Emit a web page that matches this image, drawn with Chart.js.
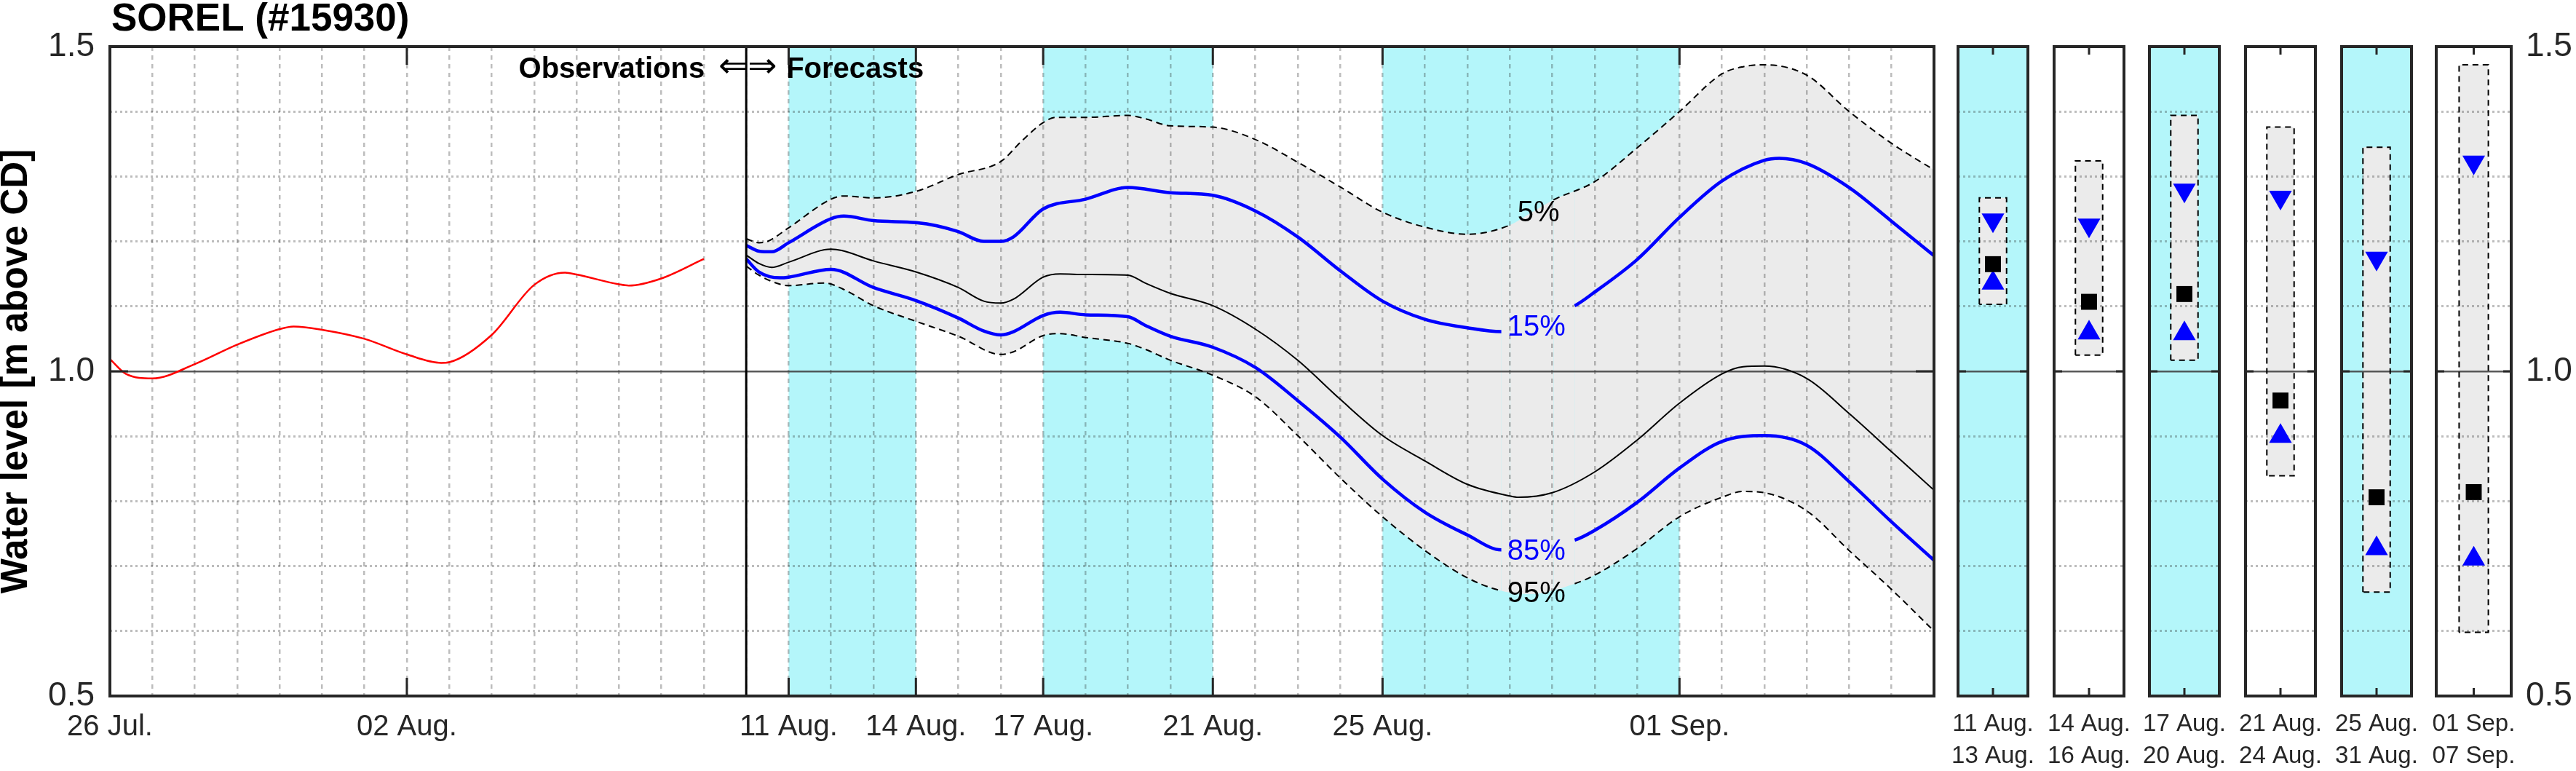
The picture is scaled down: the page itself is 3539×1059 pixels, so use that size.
<!DOCTYPE html>
<html>
<head>
<meta charset="utf-8">
<script src="https://cdn.jsdelivr.net/npm/chart.js@4.4.1/dist/chart.umd.min.js"></script>
<style>
  html, body { margin: 0; padding: 0; background: #fff; }
  #wrap { position: relative; width: 3539px; height: 1059px; overflow: hidden; background: #fff; }
  #wrap canvas { position: absolute; top: 0; }
</style>
</head>
<body>
<div id="wrap">
  <canvas id="main" width="2690" height="1059" style="left:0px"></canvas>
</div>
<script>
// x values are days counted from 26 Jul. 00:00
const xTickDays   = [0, 7, 16, 19, 22, 26, 30, 37];
const xTickLabels = ['26 Jul.', '02 Aug.', '11 Aug.', '14 Aug.', '17 Aug.', '21 Aug.', '25 Aug.', '01 Sep.'];
const yTickLevels = [0.5, 1.0, 1.5];
const yTickLabels = ['0.5', '1.0', '1.5'];
const yGridLevels = [0.5, 0.6, 0.7, 0.8, 0.9, 1.0, 1.1, 1.2, 1.3, 1.4, 1.5];

const forecastStart = 15;                          // 10 Aug.
const shadedDays = [[16, 19], [22, 26], [30, 37]]; // cyan periods

// observed water level
const obsDays  = [0, 0.38, 1, 2, 3, 4, 4.33, 5, 6, 7, 7.81, 8, 9, 10, 10.73, 11, 12, 12.23, 13, 14];
const obsLevel = [1.019, 0.996, 0.989, 1.011, 1.041, 1.065, 1.069, 1.064, 1.050, 1.026, 1.013, 1.014, 1.056, 1.133, 1.152, 1.149, 1.134, 1.132, 1.143, 1.173];

// forecast quantiles
const q05Days = [15, 15.3, 15.5, 16, 17, 17.3, 18, 19, 20, 21, 21.5, 22, 22.3, 23, 24, 24.4, 25, 26, 27, 28, 29, 30, 31, 32, 33, 33.5, 34.03, 35, 36, 37, 38, 38.5, 39, 40, 41, 42, 43];
const q05     = [1.204, 1.198, 1.200, 1.221, 1.265, 1.270, 1.267, 1.277, 1.303, 1.323, 1.355, 1.383, 1.391, 1.391, 1.394, 1.389, 1.378, 1.376, 1.357, 1.322, 1.284, 1.245, 1.222, 1.211, 1.225, 1.244, 1.264, 1.292, 1.344, 1.400, 1.458, 1.469, 1.472, 1.456, 1.400, 1.351, 1.310];

const q15Days = [15, 15.3, 15.6, 16, 17, 17.3, 18, 19, 19.5, 20, 20.6, 21, 21.3, 22, 23, 24, 25, 26, 27, 28, 29, 30, 31, 32, 32.8, 34.53, 35, 36, 37, 38, 39, 39.35, 40, 41, 42, 43];
const q15     = [1.194, 1.185, 1.184, 1.198, 1.235, 1.239, 1.232, 1.229, 1.224, 1.215, 1.200, 1.200, 1.207, 1.250, 1.265, 1.283, 1.275, 1.271, 1.247, 1.207, 1.155, 1.108, 1.080, 1.067, 1.061, 1.101, 1.122, 1.172, 1.237, 1.293, 1.325, 1.328, 1.320, 1.283, 1.231, 1.178];

const medDays = [15, 15.3, 15.6, 16, 17, 17.25, 18, 19, 20, 20.6, 21, 21.3, 22, 22.4, 23, 24, 24.4, 25, 26, 27, 28, 29, 30, 31, 32, 33, 33.2, 34, 35, 36, 37, 38, 38.5, 39, 40, 41, 42, 43];
const median  = [1.179, 1.166, 1.160, 1.168, 1.188, 1.186, 1.170, 1.153, 1.129, 1.108, 1.105, 1.111, 1.145, 1.150, 1.149, 1.148, 1.136, 1.120, 1.101, 1.065, 1.017, 0.957, 0.901, 0.862, 0.826, 0.808, 0.806, 0.813, 0.845, 0.894, 0.951, 0.996, 1.007, 1.008, 0.989, 0.935, 0.876, 0.817];

const q85Days = [15, 15.3, 15.8, 16, 17, 18, 19, 20, 20.6, 21, 21.3, 22, 22.4, 23, 24, 24.4, 25, 26, 27, 28, 29, 30, 31, 32, 32.8, 34.53, 35, 36, 37, 38, 39, 40, 41, 42, 43];
const q85     = [1.173, 1.153, 1.144, 1.145, 1.157, 1.129, 1.109, 1.082, 1.062, 1.056, 1.061, 1.086, 1.091, 1.087, 1.084, 1.071, 1.054, 1.037, 1.006, 0.955, 0.899, 0.834, 0.783, 0.748, 0.725, 0.740, 0.755, 0.798, 0.851, 0.892, 0.901, 0.886, 0.830, 0.768, 0.709];

const q95Days = [15, 15.3, 15.8, 16, 16.85, 17.27, 18, 19, 20, 21, 21.3, 22, 22.4, 23, 24, 24.4, 25, 26, 27, 28, 29, 30, 31, 32, 32.8, 33.5, 34.53, 35, 36, 37, 38, 38.5, 39, 40, 41, 42, 43];
const q95     = [1.162, 1.148, 1.134, 1.132, 1.136, 1.127, 1.101, 1.077, 1.054, 1.026, 1.030, 1.055, 1.058, 1.052, 1.043, 1.034, 1.017, 0.994, 0.961, 0.901, 0.836, 0.776, 0.724, 0.682, 0.662, 0.657, 0.673, 0.686, 0.727, 0.776, 0.806, 0.815, 0.813, 0.785, 0.724, 0.664, 0.600];

// where each curve is broken for its label
const gap05 = [33.0, 34.03];
const gapOther = [32.8, 34.53];

const pctLabels     = ['5%', '15%', '85%', '95%'];
const pctLabelDay   = [33.18, 32.94, 32.94, 32.94];
const pctLabelLevel = [1.2455, 1.070, 0.7242, 0.6592];

// period summaries (right panels)
const panelLabels = [['11 Aug.', '13 Aug.'], ['14 Aug.', '16 Aug.'], ['17 Aug.', '20 Aug.'],
                     ['21 Aug.', '24 Aug.'], ['25 Aug.', '31 Aug.'], ['01 Sep.', '07 Sep.']];
const panelShaded = [true, false, true, false, true, false];
const panelHigh = [1.267, 1.324, 1.394, 1.376, 1.345, 1.472];
const panelQ15  = [1.233, 1.225, 1.279, 1.268, 1.174, 1.322];
const panelMed  = [1.165, 1.107, 1.119, 0.955, 0.806, 0.814];
const panelQ85  = [1.136, 1.059, 1.058, 0.900, 0.727, 0.711];
const panelLow  = [1.103, 1.025, 1.017, 0.839, 0.660, 0.598];

const FONT = '"Liberation Sans", Arial, Helvetica, sans-serif';
const AXIS = '#262626';
const GRID = 'rgba(38,38,38,0.30)';
const ZERO = 'rgba(60,60,60,0.85)';
const CYAN = '#b4f6fa';
const GRAY = '#ebebeb';
const BLUE = '#0000ff';

function pts(xs, ys) { return xs.map((x, i) => ({ x: x, y: ys[i] })); }

function hideIn(gap) {
  return {
    borderColor: ctx => (ctx.p0.parsed.x >= gap[0] - 1e-6 && ctx.p1.parsed.x <= gap[1] + 1e-6) ? 'rgba(0,0,0,0)' : undefined
  };
}

// cyan shading, must run before the filler so the grey band covers it
const bandsPlugin = {
  id: 'bands',
  beforeDraw(chart, args, opts) {
    const ranges = opts.ranges || [];
    if (!ranges.length) return;
    const { ctx, chartArea: a, scales: { x } } = chart;
    ctx.save();
    ctx.fillStyle = CYAN;
    ranges.forEach(r => {
      const x0 = x.getPixelForValue(r[0]);
      const x1 = x.getPixelForValue(r[1]);
      ctx.fillRect(x0, a.top, x1 - x0, a.bottom - a.top);
    });
    ctx.restore();
  }
};
if (Chart.Filler) {
  Chart.unregister(Chart.Filler);
  Chart.register(bandsPlugin);
  Chart.register(Chart.Filler);
} else {
  Chart.register(bandsPlugin);
}

// box frame plus inward tick marks
const framePlugin = {
  id: 'frame',
  afterDraw(chart, args, opts) {
    const { ctx, chartArea: a, scales: { x, y } } = chart;
    const len = opts.len || 25;
    ctx.save();
    ctx.strokeStyle = AXIS;
    ctx.lineWidth = 3;
    ctx.beginPath();
    (opts.xTicks || []).forEach(v => {
      const px = x.getPixelForValue(v);
      ctx.moveTo(px, a.top); ctx.lineTo(px, a.top + len);
      ctx.moveTo(px, a.bottom); ctx.lineTo(px, a.bottom - len);
    });
    (opts.yTicks || []).forEach(v => {
      const py = y.getPixelForValue(v);
      ctx.moveTo(a.left, py); ctx.lineTo(a.left + len, py);
      ctx.moveTo(a.right, py); ctx.lineTo(a.right - len, py);
    });
    ctx.stroke();
    ctx.lineWidth = 4;
    ctx.strokeRect(a.left, a.top, a.right - a.left, a.bottom - a.top);
    ctx.restore();
  }
};

// divider, curve labels and header texts of the main axes
const notesPlugin = {
  id: 'notes',
  afterDatasetsDraw(chart) {
    const { ctx, chartArea: a, scales: { x, y } } = chart;
    const xd = x.getPixelForValue(forecastStart);
    ctx.save();
    ctx.strokeStyle = '#000';
    ctx.lineWidth = 3;
    ctx.beginPath();
    ctx.moveTo(xd, a.top); ctx.lineTo(xd, a.bottom);
    ctx.stroke();

    ctx.font = '40px ' + FONT;
    ctx.textAlign = 'left';
    ctx.textBaseline = 'middle';
    pctLabels.forEach((t, i) => {
      ctx.fillStyle = (i === 1 || i === 2) ? BLUE : '#000';
      ctx.fillText(t, x.getPixelForValue(pctLabelDay[i]), y.getPixelForValue(pctLabelLevel[i]) + 2);
    });

    ctx.fillStyle = '#000';
    ctx.textBaseline = 'alphabetic';
    ctx.font = 'bold 40px ' + FONT;
    ctx.textAlign = 'right';
    ctx.fillText('Observations', xd - 57, 107);
    ctx.textAlign = 'left';
    ctx.fillText('Forecasts', xd + 55, 107);
    ctx.font = '48px "DejaVu Sans"';
    ctx.textAlign = 'center';
    ctx.fillText('\u21D0\u21D2', xd + 2, 106);

    ctx.font = 'bold 53px ' + FONT;
    ctx.textAlign = 'left';
    ctx.fillText('SOREL (#15930)', a.left + 2, 42);
    ctx.restore();
  }
};

const yGrid = {
  color: c => (c.tick && c.tick.value === 1) ? ZERO : GRID,
  lineWidth: c => (c.tick && c.tick.value === 1) ? 2.5 : 3,
  drawTicks: false
};
const yBorder = { display: false, dash: c => (c.tick && c.tick.value === 1) ? [] : [3, 4] };

const dayGrid = [];
for (let d = 0; d <= 43; d++) dayGrid.push(d);

new Chart(document.getElementById('main'), {
  type: 'line',
  data: {
    datasets: [
      { label: '5%', data: pts(q05Days, q05), borderColor: '#000', borderWidth: 2, borderDash: [9, 6],
        pointRadius: 0, cubicInterpolationMode: 'monotone', fill: { target: 1 }, backgroundColor: GRAY, segment: hideIn(gap05) },
      { label: '95%', data: pts(q95Days, q95), borderColor: '#000', borderWidth: 2, borderDash: [9, 6],
        pointRadius: 0, cubicInterpolationMode: 'monotone', fill: false, segment: hideIn(gapOther) },
      { label: 'median', data: pts(medDays, median), borderColor: '#000', borderWidth: 2,
        pointRadius: 0, cubicInterpolationMode: 'monotone', fill: false },
      { label: '15%', data: pts(q15Days, q15), borderColor: BLUE, borderWidth: 4.5,
        pointRadius: 0, cubicInterpolationMode: 'monotone', fill: false, segment: hideIn(gapOther) },
      { label: '85%', data: pts(q85Days, q85), borderColor: BLUE, borderWidth: 4.5,
        pointRadius: 0, cubicInterpolationMode: 'monotone', fill: false, segment: hideIn(gapOther) },
      { label: 'observed', data: pts(obsDays, obsLevel), borderColor: '#ff0000', borderWidth: 2.5,
        pointRadius: 0, cubicInterpolationMode: 'monotone', fill: false }
    ]
  },
  options: {
    responsive: false,
    animation: false,
    devicePixelRatio: 1,
    layout: { padding: { left: 0, top: 64, right: 33, bottom: 0 } },
    plugins: {
      legend: { display: false },
      tooltip: { enabled: false },
      filler: { drawTime: 'beforeDraw' },
      bands: { ranges: shadedDays },
      frame: { xTicks: xTickDays, yTicks: yTickLevels, len: 25 }
    },
    scales: {
      x: {
        type: 'linear', min: 0, max: 43,
        afterBuildTicks: s => { s.ticks = dayGrid.map(v => ({ value: v })); },
        afterFit: s => { s.height = 103; s.paddingLeft = 0; s.paddingRight = 0; },
        ticks: {
          autoSkip: false, maxRotation: 0, padding: 19, color: AXIS,
          font: { family: FONT, size: 40 },
          callback: v => { const k = xTickDays.indexOf(v); return k >= 0 ? xTickLabels[k] : ''; }
        },
        grid: { color: GRID, lineWidth: 2.5, drawTicks: false },
        border: { display: false, dash: [6, 6] }
      },
      y: {
        type: 'linear', min: 0.5, max: 1.5,
        afterBuildTicks: s => { s.ticks = yGridLevels.map(v => ({ value: v })); },
        afterFit: s => { s.width = 151; s.paddingTop = 0; s.paddingBottom = 0; },
        ticks: {
          autoSkip: false, padding: 21, color: AXIS,
          font: { family: FONT, size: 46 },
          callback: v => { const k = yTickLevels.indexOf(v); return k >= 0 ? yTickLabels[k] : ''; }
        },
        grid: yGrid,
        border: yBorder,
        title: {
          display: true, text: 'Water level [m above CD]', color: '#000',
          font: { family: FONT, size: 51, weight: 'bold', lineHeight: 0.9 },
          padding: { top: 0, bottom: 0 }
        }
      }
    }
  },
  plugins: [framePlugin, notesPlugin]
});

// right-hand summary panels
const wrap = document.getElementById('wrap');
const panelLeft = [2682, 2814, 2945, 3077, 3209, 3339];
const PANEL_W = 112;
const PAD = 10;
const BOX = 0.39;

panelLabels.forEach((lab, i) => {
  const last = i === panelLabels.length - 1;
  const cv = document.createElement('canvas');
  const left = panelLeft[i] - PAD;
  cv.width = last ? 3539 - left : PANEL_W + 2 * PAD;
  cv.height = 1059;
  cv.style.left = left + 'px';
  wrap.appendChild(cv);

  const hi = panelHigh[i], lo = panelLow[i];
  new Chart(cv, {
    type: 'line',
    data: {
      datasets: [
        { data: pts([-BOX, -BOX, BOX, BOX, -BOX], [lo, hi, hi, lo, lo]), borderColor: '#000', borderWidth: 2,
          borderDash: [8, 6], pointRadius: 0, tension: 0, fill: false },
        { data: [{ x: 0, y: panelQ15[i] }], showLine: false, pointStyle: 'triangle', rotation: 180,
          pointRadius: 18, backgroundColor: BLUE, borderWidth: 0 },
        { data: [{ x: 0, y: panelMed[i] }], showLine: false, pointStyle: 'rect',
          pointRadius: 15.5, backgroundColor: '#000', borderWidth: 0 },
        { data: [{ x: 0, y: panelQ85[i] }], showLine: false, pointStyle: 'triangle',
          pointRadius: 18, backgroundColor: BLUE, borderWidth: 0 },
        { data: pts([-BOX, BOX], [hi, hi]), borderWidth: 0, pointRadius: 0, fill: '+1', backgroundColor: GRAY },
        { data: pts([-BOX, BOX], [lo, lo]), borderWidth: 0, pointRadius: 0, fill: false }
      ]
    },
    options: {
      responsive: false,
      animation: false,
      devicePixelRatio: 1,
      layout: { padding: { left: PAD, top: 64, right: last ? 0 : PAD, bottom: 0 } },
      plugins: {
        legend: { display: false },
        tooltip: { enabled: false },
        filler: { drawTime: 'beforeDraw' },
        bands: { ranges: panelShaded[i] ? [[-1, 1]] : [] },
        frame: { xTicks: [0], yTicks: yTickLevels, len: 11 }
      },
      scales: {
        x: {
          type: 'linear', min: -1, max: 1,
          afterBuildTicks: s => { s.ticks = [{ value: 0 }]; },
          afterFit: s => { s.height = 103; s.paddingLeft = 0; s.paddingRight = 0; },
          ticks: {
            autoSkip: false, maxRotation: 0, padding: 16, color: AXIS,
            font: { family: FONT, size: 33, lineHeight: 1.36 },
            callback: () => lab
          },
          grid: { display: false, drawTicks: false },
          border: { display: false }
        },
        y: {
          type: 'linear', min: 0.5, max: 1.5,
          position: last ? 'right' : 'left',
          afterBuildTicks: s => { s.ticks = yGridLevels.map(v => ({ value: v })); },
          afterFit: s => { s.width = last ? 89 : 0; s.paddingTop = 0; s.paddingBottom = 0; },
          ticks: {
            display: last, autoSkip: false, padding: 20, color: AXIS,
            font: { family: FONT, size: 46 },
            callback: v => { const k = yTickLevels.indexOf(v); return k >= 0 ? yTickLabels[k] : ''; }
          },
          grid: yGrid,
          border: yBorder
        }
      }
    },
    plugins: [framePlugin]
  });
});
</script>
</body>
</html>
